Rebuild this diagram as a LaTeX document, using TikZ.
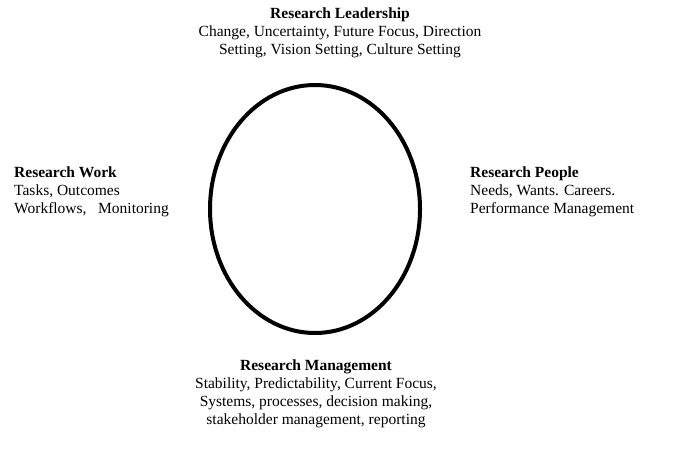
\documentclass[tikz,border=0pt]{standalone}
\usepackage{fontspec}
\setmainfont{Liberation Serif}
\begin{document}
\begin{tikzpicture}[x=1pt,y=-1pt,line join=round,line cap=round,
	every node/.style={font=\fontsize{15.5}{18}\selectfont,inner sep=0pt},
	txt/.style={align=center},
	side/.style={align=left,anchor=west}]
		\useasboundingbox (0,0) rectangle (700,458);
		\draw[line width=4pt] (315,209) ellipse (105 and 124);
		\node[txt] (lead) at (340,33) {\textbf{Research Leadership}\\Change, Uncertainty, Future Focus, Direction\\Setting, Vision Setting, Culture Setting};
		\node[side] (work) at (14,191.5) {\textbf{Research Work}\\Tasks, Outcomes\\Workflows,\ \ \ Monitoring};
		\node[side] (people) at (470,191.5) {\textbf{Research People}\\Needs, Wants. Careers.\\Performance Management};
		\node[txt] (mgmt) at (316,393.5) {\textbf{Research Management}\\Stability, Predictability, Current Focus,\\Systems, processes, decision making,\\stakeholder management, reporting};
\end{tikzpicture}
\end{document}
